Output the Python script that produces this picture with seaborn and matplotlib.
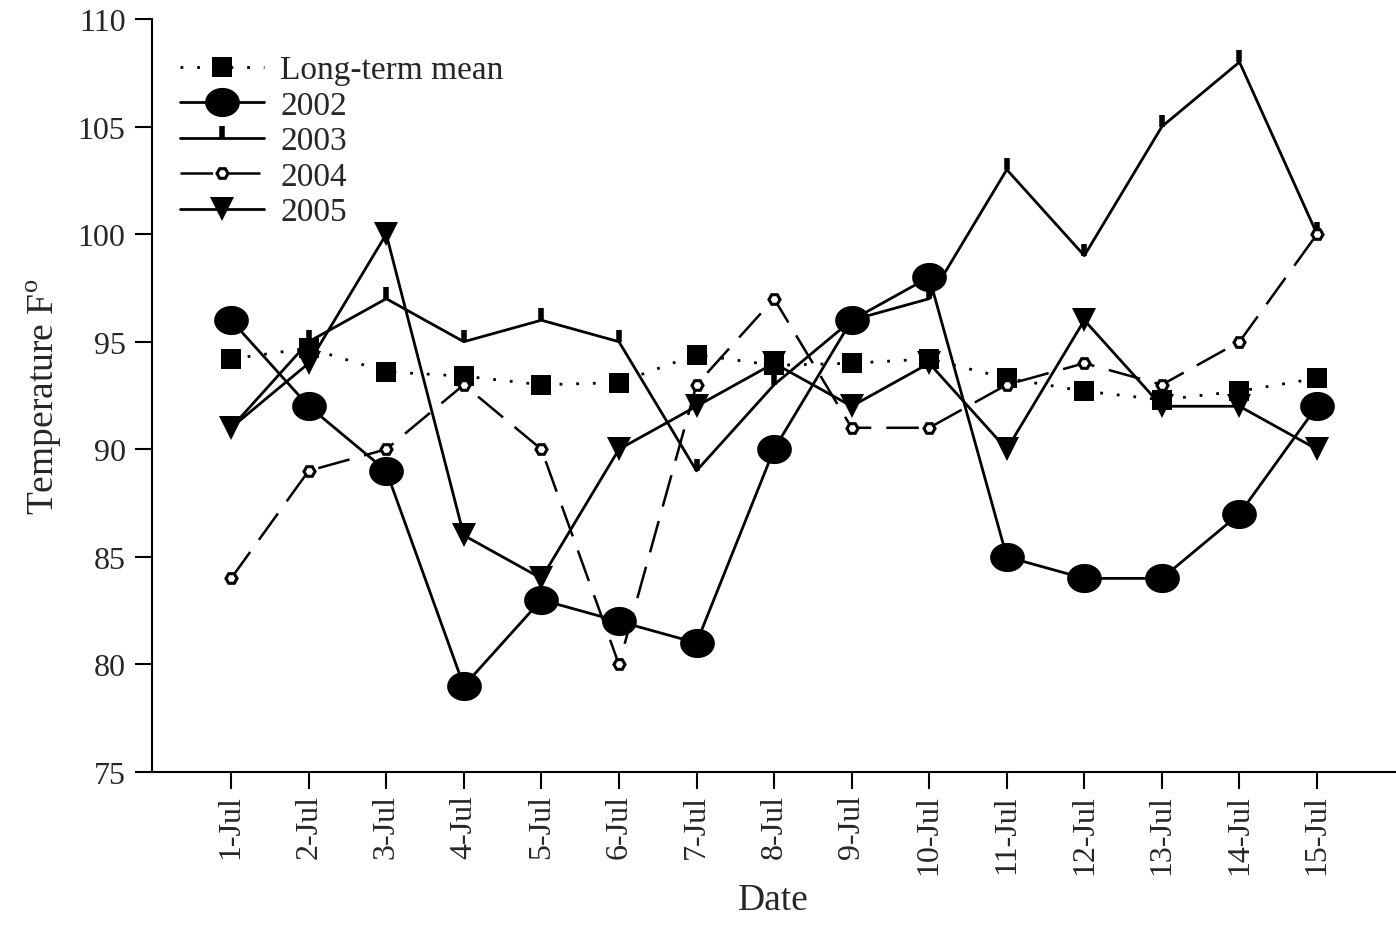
import matplotlib
matplotlib.use("Agg")
import matplotlib.pyplot as plt
import seaborn as sns
import pandas as pd
import numpy as np
from matplotlib.markers import TICKUP
from matplotlib.path import Path

dates = ["1-Jul", "2-Jul", "3-Jul", "4-Jul", "5-Jul", "6-Jul", "7-Jul", "8-Jul",
         "9-Jul", "10-Jul", "11-Jul", "12-Jul", "13-Jul", "14-Jul", "15-Jul"]
long_term_mean = [94.2, 94.7, 93.6, 93.4, 93.0, 93.1, 94.4, 93.9, 94.0, 94.2, 93.3, 92.7, 92.3, 92.7, 93.3]
y2002 = [96, 92, 89, 79, 83, 82, 81, 90, 96, 98, 85, 84, 84, 87, 92]
y2003 = [91, 95, 97, 95, 96, 95, 89, 93, 96, 97, 103, 99, 105, 108, 100]
y2004 = [84, 89, 90, 93, 90, 80, 93, 97, 91, 91, 93, 94, 93, 95, 100]
y2005 = [91, 94, 100, 86, 84, 90, 92, 94, 92, 94, 90, 96, 92, 92, 90]
yticks = [75, 80, 85, 90, 95, 100, 105, 110]

sns.set_style("ticks")
plt.rcParams["font.family"] = ["Liberation Serif", "DejaVu Serif"]
plt.rcParams["mathtext.fontset"] = "custom"
plt.rcParams["mathtext.rm"] = "Liberation Serif"

fig = plt.figure(figsize=(13.96, 9.29), dpi=100)
ax = fig.add_axes([152/1396, 1-773/929, 1-152/1396-0.001, (773-20)/929])

# ellipse marker (wider than tall)
t = np.linspace(0, 2*np.pi, 60)
ellipse = Path(np.column_stack([np.cos(t), 0.84*np.sin(t)]), closed=True)

x = np.arange(len(dates))
df = pd.DataFrame({"x": x, "mean": long_term_mean, "y2002": y2002, "y2003": y2003,
                   "y2004": y2004, "y2005": y2005})

common = dict(ax=ax, color="black", markeredgecolor="black")
sns.lineplot(data=df, x="x", y="mean", lw=2, linestyle=(0, (1, 5)), marker="s",
             markersize=15, markeredgewidth=0, label="Long-term mean", **common)
sns.lineplot(data=df, x="x", y="y2002", lw=2, marker=ellipse, markersize=25,
             markeredgewidth=0, label="2002", **common)
sns.lineplot(data=df, x="x", y="y2003", lw=2, marker=TICKUP, markersize=9,
             markeredgewidth=4, label="2003", **common)
sns.lineplot(data=df, x="x", y="y2004", lw=1.8, linestyle=(0, (13, 6)), marker="H",
             markersize=8, markeredgewidth=2.2, markerfacecolor="white",
             label="2004", **common)
sns.lineplot(data=df, x="x", y="y2005", lw=2, marker="v", markersize=17,
             markeredgewidth=0, label="2005", **common)

ax.set_xlim(-1.02, 15.0)
ax.set_ylim(75, 110)
ax.set_yticks(yticks)
ax.set_xticks(x)
ax.set_xticklabels(dates, rotation=90)
ax.tick_params(axis="both", labelsize=23, length=12, width=1.5, direction="out", color="black")
ax.tick_params(axis="x", pad=4)
ax.tick_params(axis="y", pad=7)
for s in ["left", "bottom"]:
    ax.spines[s].set_linewidth(1.5)
    ax.spines[s].set_color("black")
sns.despine(ax=ax)
ax.set_xlabel("Date", fontsize=27, labelpad=6)
ax.set_ylabel("Temperature F$^{\\mathrm{o}}$", fontsize=27, labelpad=10)

ax.legend(loc="upper left", bbox_to_anchor=(0.012, 0.97), frameon=False, fontsize=24,
          handlelength=2.5, labelspacing=0.15, handletextpad=0.5, borderaxespad=0)

fig.savefig("out.png", dpi=100)
